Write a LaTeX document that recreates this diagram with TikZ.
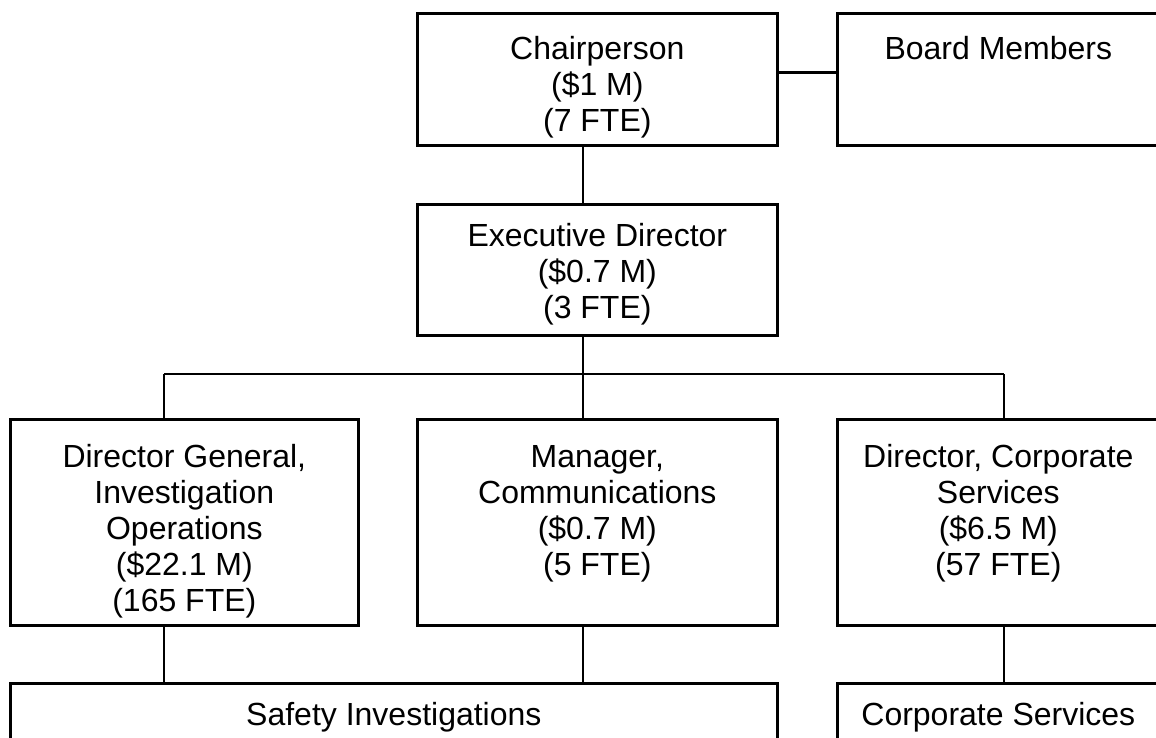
\documentclass[tikz,border=0pt]{standalone}
\usepackage{fontspec}
\setmainfont{Liberation Sans}
\usepackage{tikz}
\usetikzlibrary{positioning}

% box text: width, height, top pad, lines
\newcommand{\unittext}[4]{\parbox[t][#2][t]{#1}{\centering\vspace*{#3}\strut #4}}

\begin{document}
\begin{tikzpicture}[
  x=0.75pt, y=-0.75pt,
  unit/.style={rectangle, draw, line width=2pt, inner sep=0pt, anchor=north west,
    font=\fontsize{24}{27}\selectfont},
  link/.style={line width=2pt},
  sublink/.style={line width=1.1pt}
]
\fill[white] (0,0) rectangle (1156,738);
\useasboundingbox (0,0) rectangle (1156,738);
\clip (0,0) rectangle (1156,738);

% Nodes
\node[unit] (chair) at (416,12) {\unittext{270pt}{99pt}{16pt}{Chairperson\\(\$1 M)\\(7 FTE)}};
\node[unit] (board) at (836,12) {\unittext{241.5pt}{99pt}{16pt}{Board Members}};
\node[unit] (exec) at (416,203) {\unittext{270pt}{98.25pt}{13pt}{Executive Director\\(\$0.7 M)\\(3 FTE)}};
\node[unit] (dg) at (9,418) {\unittext{261pt}{154.5pt}{17pt}{Director General,\\Investigation\\Operations\\(\$22.1 M)\\(165 FTE)}};
\node[unit] (comms) at (416,418) {\unittext{270pt}{154.5pt}{17pt}{Manager,\\Communications\\(\$0.7 M)\\(5 FTE)}};
\node[unit] (dcs) at (836,418) {\unittext{241.5pt}{154.5pt}{17pt}{Director, Corporate\\Services\\(\$6.5 M)\\(57 FTE)}};
\node[unit] (safety) at (9,682) {\unittext{575.25pt}{70pt}{13pt}{Safety Investigations}};
\node[unit] (corp) at (836,682) {\unittext{241.5pt}{70pt}{13pt}{Corporate Services}};

% Lines
\coordinate (busL) at (164,374);
\coordinate (busM) at (583,374);
\coordinate (busR) at (1004,374);
\draw[link] ([yshift=5pt]chair.east) -- ([yshift=5pt]board.west);
\draw[link] (busM |- chair.south) -- (busM |- exec.north);
\draw[link] (busM |- exec.south) -- (busM);
\draw[link] (busL) -- (busR);
\draw[link] (busL) -- (busL |- dg.north);
\draw[link] (busM) -- (busM |- comms.north);
\draw[link] (busR) -- (busR |- dcs.north);
\draw[sublink] (busL |- dg.south) -- (busL |- safety.north);
\draw[sublink] (busM |- comms.south) -- (busM |- safety.north);
\draw[sublink] (busR |- dcs.south) -- (busR |- corp.north);

\end{tikzpicture}
\end{document}
